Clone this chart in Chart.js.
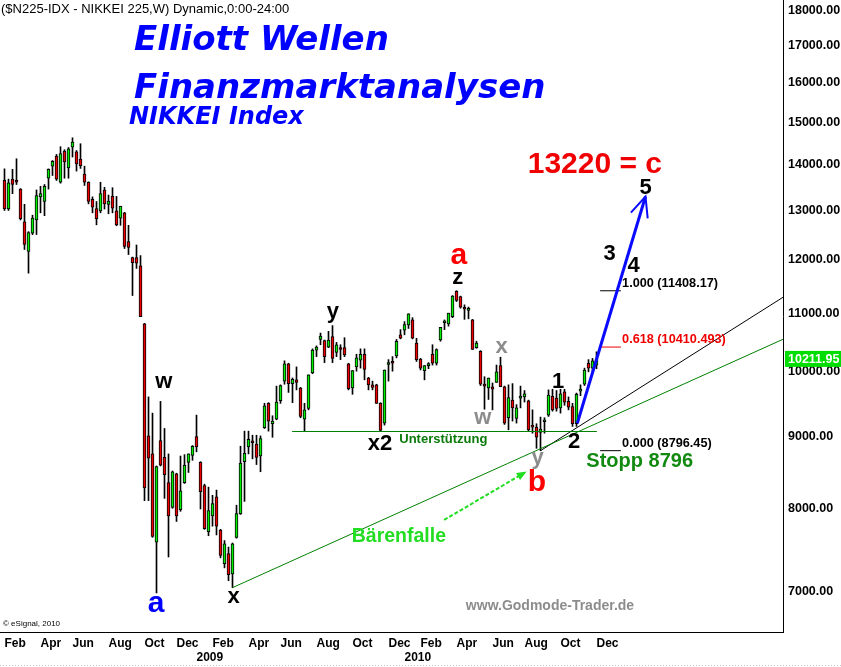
<!DOCTYPE html>
<html>
<head>
<meta charset="utf-8">
<script src="https://cdn.jsdelivr.net/npm/chart.js@4.4.1/dist/chart.umd.min.js"></script>
<style>
html,body{margin:0;padding:0;background:#fff;}
canvas{display:block;}
</style>
</head>
<body>
<canvas id="chart" width="841" height="667"></canvas>
<script>
// weekly candles, first week = Mon 4 Feb 2008
const opens=[13650,13030,13680,13630,13460,12760,12160,12530,12800,13290,13190,13700,13970,14200,13610,14320,13930,14410,14300,14130,
13790,13610,13240,13040,12990,13440,13130,13300,12990,12840,12950,12360,12040,12040,11880,10810,9010,8750,7580,8940,
8700,8350,8020,8470,7990,8350,8630,8730,9000,8630,8310,7710,7910,8160,7730,7320,7440,7200,7640,7940,
8640,8850,8930,8890,8720,9130,9500,9190,9260,9540,9850,10130,9810,9870,9740,9260,9420,9980,10360,10540,
10520,10410,10590,10320,10390,10400,10130,9740,10080,10190,10290,9900,9790,9790,9500,9200,10120,10150,10260,10620,
10700,10790,10880,10480,10210,10020,10100,10290,10140,10530,10830,10810,10940,11400,11300,11090,11050,10880,10400,10340,
9800,9740,9760,9830,10100,9760,9280,9550,9270,9580,9600,9540,9150,9140,9060,9220,9320,9610,9580,9430,
9680,9530,9450,9190,9690,9800,10140,10060,10110];
const highs=[13910,13680,13900,14140,13470,13130,12560,12900,13440,13520,13560,13910,14100,14240,14420,14350,14400,14630,14330,14490,
13970,13620,13290,13190,13610,13500,13330,13490,13300,13090,12960,12690,12050,12290,12080,10820,9600,9350,8580,9530,
9120,8750,8510,8480,8720,8740,8750,8870,9320,8640,8330,8290,8180,8250,7740,7600,7520,7570,8050,8860,
9080,9080,9020,9020,9010,9500,9510,9310,9770,9790,10180,10140,9900,10080,9750,9500,9950,10380,10430,10650,
10530,10680,10780,10490,10450,10570,10140,10020,10290,10380,10380,9910,9850,9800,9510,10030,10200,10250,10540,10710,
10850,10990,10920,10560,10220,10100,10150,10450,10380,10750,10880,11000,11320,11410,11310,11150,11110,10890,10510,10350,
9920,9900,9820,10110,10240,9770,9790,9810,9480,9770,9700,9550,9400,9190,9290,9280,9710,9720,9700,9720,
9720,9600,9500,9660,9790,10060,10200,10220,10330];
const lows=[13000,13000,13360,13560,12800,12200,11740,12500,12500,12950,12890,13460,13760,13650,13590,13700,13700,14180,13860,13920,
13540,13140,12950,12700,12950,13030,12930,12950,12680,12690,12220,12100,11320,11830,10940,8110,8110,7640,6980,8580,
8140,7400,8010,7840,7970,8340,8490,8660,8780,8000,7740,7660,7780,7670,7390,7270,7120,7040,7630,7930,
8100,8750,8680,8600,8500,9120,9080,8990,9250,9500,9800,9670,9510,9710,9280,9080,9400,9970,10250,10450,
10150,10400,10150,10250,10200,10250,9710,9640,10010,10060,9870,9710,9710,9500,9080,9170,9850,10010,10230,10550,
10620,10730,10550,10170,10030,9870,10050,10110,10110,10510,10710,10770,10920,11210,11090,10890,10900,10370,10390,9780,
9410,9560,9400,9830,9760,9180,9100,9230,9200,9430,9520,9080,9050,8830,8796.45,9050,9300,9380,9380,9350,
9470,9400,9150,9150,9620,9780,10000,10000,10050];
const closes=[13030,13600,13560,13610,12830,12300,12540,12840,13320,13360,13520,13900,14080,13680,14260,14070,14370,14530,14020,13980,
13610,13190,13070,12830,13360,13140,13200,13050,12700,13090,12260,12240,11940,11930,10940,8280,8690,7650,8570,8590,
8460,7910,8500,7910,8240,8590,8750,8860,8850,8230,7750,7980,8070,7780,7420,7560,7190,7560,7940,8620,
8760,8960,8910,8700,8970,9460,9230,9230,9520,9780,10130,9810,9880,9830,9300,9400,9950,10360,10410,10600,
10250,10530,10220,10450,10370,10280,9730,10020,10230,10290,10040,9790,9750,9500,9090,10030,10130,10140,10510,10560,
10800,10990,10560,10200,10060,10100,10130,10140,10370,10750,10840,11000,11310,11230,11110,11070,11070,10370,10480,9800,
9770,9900,9720,10000,9760,9200,9590,9430,9430,9600,9650,9100,9140,8990,9110,9240,9630,9400,9420,9650,
9520,9440,9190,9640,9720,10030,10060,10180,10211.95];

const monthNames=['Jan','Feb','Mar','Apr','May','Jun','Jul','Aug','Sep','Oct','Nov','Dec'];
const yTicks=[7000,8000,9000,10000,11000,12000,13000,14000,15000,16000,17000,18000];
const lastValue=10211.95;

// trend lines and arrows, in (week index, price)
const greenTrend=[[57,7040],[194.625,10543]];
const blackTrend=[[134,8796.45],[194.625,11288]];
const support=[[71.9,9075],[148.1,9075]];
const blueArrow=[[143.2,9197],[160.25,13298]];
const blueHead=[[156.6,12953],[160.25,13298],[160.8,12835]];
const bearArrow=[[109.9,7859],[129.9,8483]];
const fibLevels=[
 {label:'1.000 (11408.17)',value:11408.17,color:'#000'},
 {label:'0.618 (10410.493)',value:10410.493,color:'#f00000'},
 {label:'0.000 (8796.45)',value:8796.45,color:'#000'}
];
const fibFrom=148.9, fibTo=154.1, fibText=154.4;

const waveLabels=[
 {t:'w',i:39.8,p:9842,c:'#000',s:22},
 {t:'a',i:37.9,p:6861,c:'#0000ff',s:30},
 {t:'x',i:57.25,p:6934,c:'#000',s:22},
 {t:'y',i:82.1,p:11025,c:'#000',s:22},
 {t:'x2',i:93.9,p:8895,c:'#000',s:22},
 {t:'a',i:113.6,p:12072,c:'#ff0000',s:30},
 {t:'z',i:113.3,p:11648,c:'#000',s:22},
 {t:'x',i:124.3,p:10411,c:'#8c8c8c',s:22},
 {t:'w',i:119.6,p:9275,c:'#8c8c8c',s:22},
 {t:'y',i:133.25,p:8695,c:'#8c8c8c',s:22},
 {t:'b',i:133.1,p:8351,c:'#ff0000',s:30},
 {t:'1',i:138.4,p:9839,c:'#000',s:22},
 {t:'2',i:142.4,p:8924,c:'#000',s:22},
 {t:'3',i:151.3,p:12115,c:'#000',s:22},
 {t:'4',i:157.3,p:11871,c:'#000',s:22},
 {t:'5',i:160.3,p:13484,c:'#000',s:22},
 {t:'13220 = c',i:147.6,p:14001,c:'#f00000',s:30},
 {t:'Unterstützung',i:109.7,p:8958,c:'#0a7a0a',s:13},
 {t:'Stopp 8796',i:158.8,p:8643,c:'#128a12',s:20},
 {t:'Bärenfalle',i:98.6,p:7644,c:'#22dd22',s:19.5}
];

const weekStart=Date.UTC(2008,1,4);
const tickLabels={};
opens.forEach((_,i)=>{
 const d=new Date(weekStart+i*7*864e5);
 if(d.getUTCDate()>7) return;
 const m=d.getUTCMonth();
 if(m===0) tickLabels[i]=['',String(d.getUTCFullYear())];
 else if(m%2===1) tickLabels[i]=monthNames[m];
});

const idx=opens.map((_,i)=>i);

function seg(points,color,width,dash){
 return {type:'line',data:points.map(p=>({x:p[0],y:p[1]})),borderColor:color,borderWidth:width,
  borderDash:dash||[],pointRadius:0,fill:false,tension:0,order:0};
}

const annot={
 id:'annot',
 afterDraw(chart){
  const {ctx,chartArea:a,scales:{x,y}}=chart;
  const px=v=>x.getPixelForValue(v), py=v=>y.getPixelForValue(v);
  ctx.save();
  // arrow head for Bärenfalle
  const x0=px(bearArrow[0][0]),y0=py(bearArrow[0][1]),x1=px(bearArrow[1][0]),y1=py(bearArrow[1][1]);
  const an=Math.atan2(y1-y0,x1-x0),c=Math.cos(an),s=Math.sin(an);
  ctx.fillStyle='#22dd22';
  ctx.beginPath();
  ctx.moveTo(x1+3*c,y1+3*s);
  ctx.lineTo(x1-7*c+4*s,y1-7*s-4*c);
  ctx.lineTo(x1-7*c-4*s,y1-7*s+4*c);
  ctx.closePath();ctx.fill();

  ctx.textAlign='center';ctx.textBaseline='middle';
  waveLabels.forEach(l=>{
   ctx.font='bold '+l.s+'px "Liberation Sans", Arial, sans-serif';
   ctx.fillStyle=l.c;
   ctx.fillText(l.t,px(l.i),py(l.p));
  });

  ctx.textAlign='left';
  ctx.font='bold 12.7px "Liberation Sans", Arial, sans-serif';
  fibLevels.forEach(f=>{
   ctx.fillStyle=f.color;
   ctx.fillText(f.label,px(fibText),py(f.value)-7.5);
  });

  // header and titles
  ctx.textBaseline='alphabetic';
  ctx.fillStyle='#000';
  ctx.font='13px "Liberation Sans", Arial, sans-serif';
  ctx.fillText('($N225-IDX - NIKKEI 225,W) Dynamic,0:00-24:00',1,13);
  ctx.fillStyle='#0000ff';
  ctx.font='italic bold 34px "DejaVu Sans", sans-serif';
  ctx.fillText('Elliott Wellen',134,50);
  ctx.fillText('Finanzmarktanalysen',134,98);
  ctx.font='italic bold 24px "DejaVu Sans", sans-serif';
  ctx.fillText('NIKKEI Index',129,124);

  ctx.fillStyle='#8c8c8c';
  ctx.font='bold 14px "Liberation Sans", Arial, sans-serif';
  ctx.textAlign='center';
  ctx.fillText('www.Godmode-Trader.de',550,610);
  ctx.fillStyle='#000';
  ctx.font='8px "Liberation Sans", Arial, sans-serif';
  ctx.textAlign='left';
  ctx.fillText('© eSignal, 2010',3,626);

  // last value box
  const yv=py(lastValue);
  ctx.fillStyle='#00dd00';
  ctx.fillRect(a.right+2,yv-8,chart.width-a.right-2,16);
  ctx.fillStyle='#fff';
  ctx.font='bold 12.5px "Liberation Sans", Arial, sans-serif';
  ctx.textBaseline='middle';
  ctx.fillText(lastValue.toFixed(2),a.right+5,yv+0.5);

  // dotted frame line at bottom
  ctx.strokeStyle='#c8c8c8';ctx.lineWidth=1;ctx.setLineDash([1,2]);
  ctx.beginPath();ctx.moveTo(0,665.5);ctx.lineTo(chart.width,665.5);ctx.stroke();
  ctx.restore();
 }
};

new Chart(document.getElementById('chart'),{
 type:'bar',
 data:{datasets:[
  {type:'bar',data:idx.map(i=>({x:i,y:[opens[i],closes[i]]})),
   backgroundColor:idx.map(i=>closes[i]>=opens[i]?'#00ee00':'#ee0000'),
   borderColor:'#000',borderWidth:1,borderSkipped:false,barThickness:3,minBarLength:2,grouped:false,order:2},
  {type:'bar',data:idx.map(i=>({x:i,y:[lows[i],highs[i]]})),
   backgroundColor:'#000',borderWidth:0,barThickness:1,grouped:false,order:3},
  seg(support,'#008000',1),
  seg(greenTrend,'#008000',1),
  seg(blackTrend,'#000',1),
  seg(bearArrow,'#22dd22',2,[4,2]),
  seg(blueArrow,'#0a0aff',3),
  seg(blueHead,'#0a0aff',2),
  ...fibLevels.map(f=>seg([[fibFrom,f.value],[fibTo,f.value]],f.color,1))
 ]},
 options:{
  responsive:false,animation:false,devicePixelRatio:1,events:[],
  layout:{padding:0},
  plugins:{legend:{display:false},tooltip:{enabled:false}},
  scales:{
   x:{type:'linear',min:-1.125,max:194.625,offset:false,position:'bottom',
    grid:{display:false,drawTicks:false},
    border:{display:true,color:'#000',width:1},
    afterBuildTicks:s=>{s.ticks=Object.keys(tickLabels).map(k=>({value:+k}));},
    afterFit:s=>{s.height=35;s.paddingLeft=0;s.paddingRight=0;},
    ticks:{autoSkip:false,maxRotation:0,minRotation:0,align:'start',padding:4,color:'#000',
     font:{family:'"Liberation Sans", Arial, sans-serif',size:12,weight:'bold'},
     callback:v=>tickLabels[v]}
   },
   y:{type:'logarithmic',position:'right',min:6550,max:18305,
    grid:{display:false,drawTicks:false},
    border:{display:true,color:'#000',width:1},
    afterBuildTicks:s=>{s.ticks=yTicks.map(v=>({value:v}));},
    afterFit:s=>{s.width=58;s.paddingTop=0;s.paddingBottom=0;},
    ticks:{padding:5,color:'#000',
     font:{family:'"Liberation Sans", Arial, sans-serif',size:12.5,weight:'bold'},
     callback:v=>Number(v).toFixed(2)}
   }
  }
 },
 plugins:[annot]
});
</script>
</body>
</html>
